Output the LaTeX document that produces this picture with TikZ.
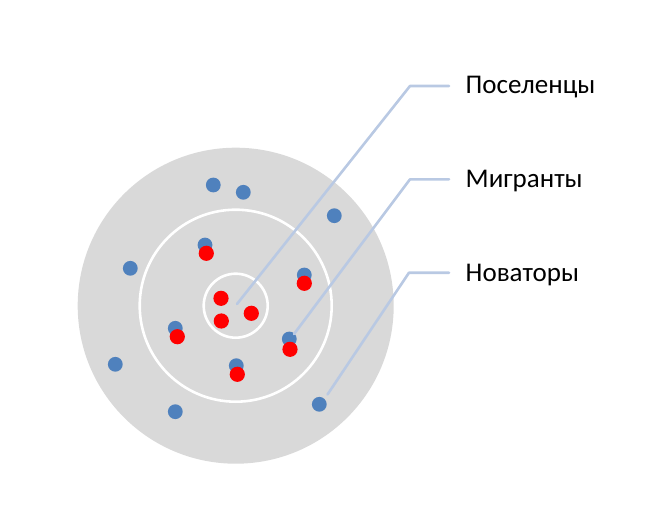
\documentclass[tikz,border=0pt]{standalone}
\usepackage{fontspec}
\setmainfont{Carlito}
\usetikzlibrary{calc,positioning}
\definecolor{ringgray}{HTML}{D9D9D9}
\definecolor{dotblue}{HTML}{4F81BD}
\definecolor{dotred}{HTML}{FF0000}
\definecolor{leader}{HTML}{B9C9E3}
\tikzset{
  lbl/.style={anchor=base west,inner sep=0pt,font=\fontsize{27}{32}\selectfont},
  lead/.style={color=leader,line width=2.6pt},
  ring/.style={draw=white,line width=2.6pt}
}
\begin{document}
\begin{tikzpicture}[line cap=round,line join=round,x=1pt,y=-1pt]
\useasboundingbox (0,0) rectangle (662,511);
% rings
\coordinate (c) at (235.7,305.7);
\fill[ringgray] (c) circle (158);
\draw[ring] (c) circle (96);
\draw[ring] (c) circle (32);
% blue dots
\foreach \x/\y in {213.3/185,243.3/192.3,334.3/215.7,130.3/268.3,205/245,304.3/275,175.3/328.3,289.3/339,236.3/365.7,115.3/364.3,175.3/411.7,319.3/404.3}
\fill[dotblue] (\x,\y) circle (7.4);
% red dots
\foreach \x/\y in {206.3/253.3,304.3/283.3,221/298.3,221.3/321,251.3/313.3,177.3/336.7,290/349.3,237.3/374.3}
\fill[dotred] (\x,\y) circle (7.6);
% labels
\node[lbl] (settlers) at (465.5,94) {Поселенцы};
\node[lbl] (migrants) at (465.5,187.3) {Мигранты};
\node[lbl] (innovators) at (465.5,281) {Новаторы};
% leader lines
\coordinate (s0) at (237,304);
\coordinate (s1) at (410,86);
\coordinate (s2) at (449,86);
\coordinate (m0) at (294,334);
\coordinate (m1) at (410,179.3);
\coordinate (m2) at (449,179.3);
\coordinate (n0) at (327.5,394.5);
\coordinate (n1) at (409,272.7);
\coordinate (n2) at (449,272.7);
\draw[lead] (s0) -- (s1) -- (s2);
\draw[lead] (m0) -- (m1) -- (m2);
\draw[lead] (n0) -- (n1) -- (n2);
\end{tikzpicture}
\end{document}
